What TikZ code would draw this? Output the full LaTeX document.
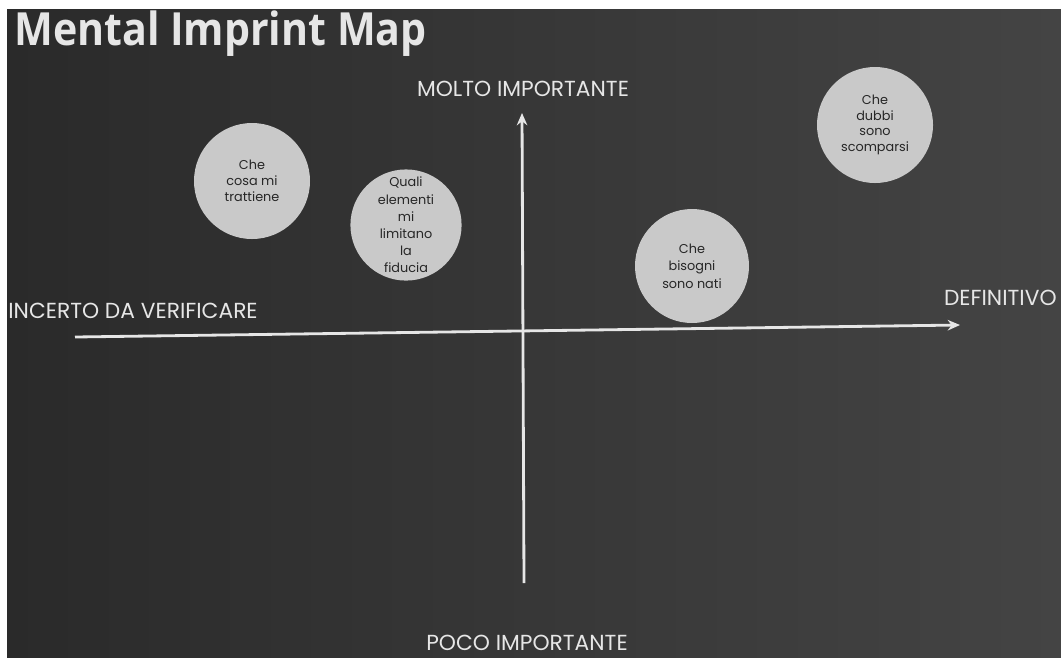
\documentclass[tikz,border=0pt]{standalone}
\usepackage{fontspec}
\setmainfont{Poppins}
\newfontfamily\titlefont{Open Sans}
\usetikzlibrary{arrows.meta}
\definecolor{board}{HTML}{2A2A2A}
\definecolor{boardlight}{HTML}{444444}
\definecolor{chalk}{HTML}{E6E6E6}
\definecolor{bubble}{HTML}{C9C9C9}
\tikzset{
  axis/.style={draw=chalk, line width=1.6pt, -{Stealth[length=7pt,width=6pt]}},
  axislabel/.style={text=chalk, font=\fontsize{12.4}{13}\selectfont, inner sep=0pt},
  bubblebox/.style={circle, fill=bubble, draw=none, inner sep=0pt, align=center,
    text=black!85, font=\fontsize{7.3}{9}\selectfont},
}
\begin{document}
\begin{tikzpicture}[x=0.02cm,y=-0.02cm]
  \useasboundingbox (0,0) rectangle (1061,657);
  \fill[white] (0,0) rectangle (1061,657);
  \shade[left color=board, right color=boardlight] (7,9) rectangle (1061,657);

  % title
  \node[anchor=base west, inner sep=0pt, text=chalk, xscale=0.9,
        font=\titlefont\bfseries\fontsize{26}{28}\selectfont] (title) at (14,45) {Mental Imprint Map};

  % axes
  \coordinate (xl) at (75,337);
  \coordinate (xr) at (960,325);
  \coordinate (yb) at (524,583);
  \coordinate (yt) at (522,113);
  \draw[axis] (xl) -- (xr);
  \draw[axis] (yb) -- (yt);

  % axis labels
  \node[axislabel, anchor=base] (top) at (523,96) {MOLTO IMPORTANTE};
  \node[axislabel, anchor=base] (bottom) at (527,650) {POCO IMPORTANTE};
  \node[axislabel, anchor=base west] (left) at (8,318) {INCERTO DA VERIFICARE};
  \node[axislabel, anchor=base east] (right) at (1057,305) {DEFINITIVO};

  % bubbles
  \node[bubblebox, minimum size=116*0.02cm] (b1) at (252,181) {Che\\cosa mi\\trattiene};
  \node[bubblebox, minimum size=108*0.02cm, font=\fontsize{7.3}{9.8}\selectfont] (b2) at (406,225) {Quali\\elementi\\mi\\limitano\\la\\fiducia};
  \node[bubblebox, minimum size=114*0.02cm, font=\fontsize{7.3}{10}\selectfont] (b3) at (692,266) {Che\\bisogni\\sono nati};
  \node[bubblebox, minimum size=116*0.02cm] (b4) at (875,125) {Che\\dubbi\\sono\\scomparsi};
\end{tikzpicture}
\end{document}
